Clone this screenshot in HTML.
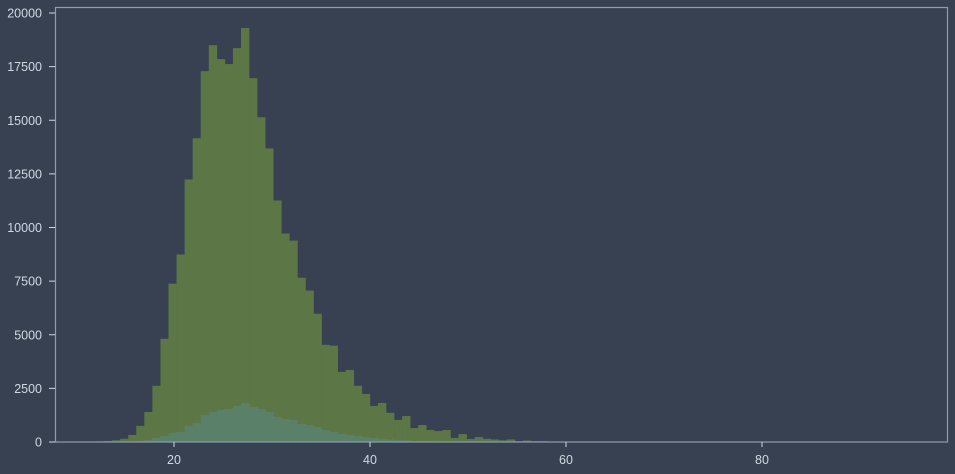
<!DOCTYPE html>
<html><head><meta charset="utf-8"><style>
html,body{margin:0;padding:0;background:#384152;}
svg{display:block;font-family:"Liberation Sans",sans-serif;}
</style></head><body>
<svg id="chart" width="955" height="474" viewBox="0 0 955 474">
<rect x="0" y="0" width="955" height="474" fill="#384152"/>
<g id="bars1"></g>
<g id="bars2"></g>
<rect x="55.5" y="7.5" width="892" height="434.5" fill="none" stroke="#8d9cb4" stroke-width="1.2"/>
<g id="xaxis"></g>
<g id="yaxis"></g>
</svg>
<script>
const binStart = 12.04;
const binWidth = 0.822;
const totalCounts = [30,50,80,150,330,750,1400,2620,4810,7380,8740,12240,14160,17290,18500,17850,17620,18360,19300,16960,15140,13690,11260,9720,9390,7660,7060,5980,4530,4490,3270,3360,2620,2240,1680,1820,1360,1030,1210,650,790,560,510,560,190,370,140,230,150,120,80,120,40,70,40,40,20,15,15,15,10,10,10,15,15,10,10,5,5,10,10,5,5,5,5,5,5,5,5,5,5];
const subsetCounts = [0,0,5,10,20,40,90,190,280,420,470,750,890,1260,1400,1500,1540,1680,1820,1640,1540,1400,1170,1070,1030,840,790,700,560,470,370,330,280,230,190,150,120,80,80,40,40,30,20,20,15,10,10,10,5,5,5,5,5,5,5,5,5];
const xTicks = [20,40,60,80];
const yTicks = [0,2500,5000,7500,10000,12500,15000,17500,20000];

const NS="http://www.w3.org/2000/svg";
const X = v => 174 + (v-20)*9.8;
const Y = v => 442 - v*429/20000;
function mk(tag, attrs, parent){const e=document.createElementNS(NS,tag);for(const k in attrs)e.setAttribute(k,attrs[k]);parent.appendChild(e);return e;}
function drawBars(counts, gid, color){
  const g=document.getElementById(gid);
  counts.forEach((c,i)=>{
    const x0=X(binStart+i*binWidth), x1=X(binStart+(i+1)*binWidth);
    const r=mk('rect',{x:x0,y:Y(c),width:x1-x0+0.3,height:Math.max(0,442-Y(c)),fill:color},g);
    
    
  });
}
drawBars(totalCounts,'bars1','#5d7645');
drawBars(subsetCounts,'bars2','#5b8069');
const xa=document.getElementById('xaxis');
xTicks.forEach(t=>{
  const l=mk('line',{x1:X(t),x2:X(t),y1:442,y2:447,stroke:'#d0d8e2','stroke-width':1},xa);
  
  
  const tx=mk('text',{x:X(t),y:464,'text-anchor':'middle','font-size':12.5,fill:'#d0d8e2'},xa);
  tx.textContent=t;
  
  
});
const ya=document.getElementById('yaxis');
yTicks.forEach(t=>{
  const l=mk('line',{x1:49,x2:55,y1:Y(t),y2:Y(t),stroke:'#d0d8e2','stroke-width':1},ya);
  
  
  const tx=mk('text',{x:42,y:Y(t)+4.5,'text-anchor':'end','font-size':12.5,fill:'#d0d8e2'},ya);
  tx.textContent=t;
  
  
});
</script>
</body></html>
